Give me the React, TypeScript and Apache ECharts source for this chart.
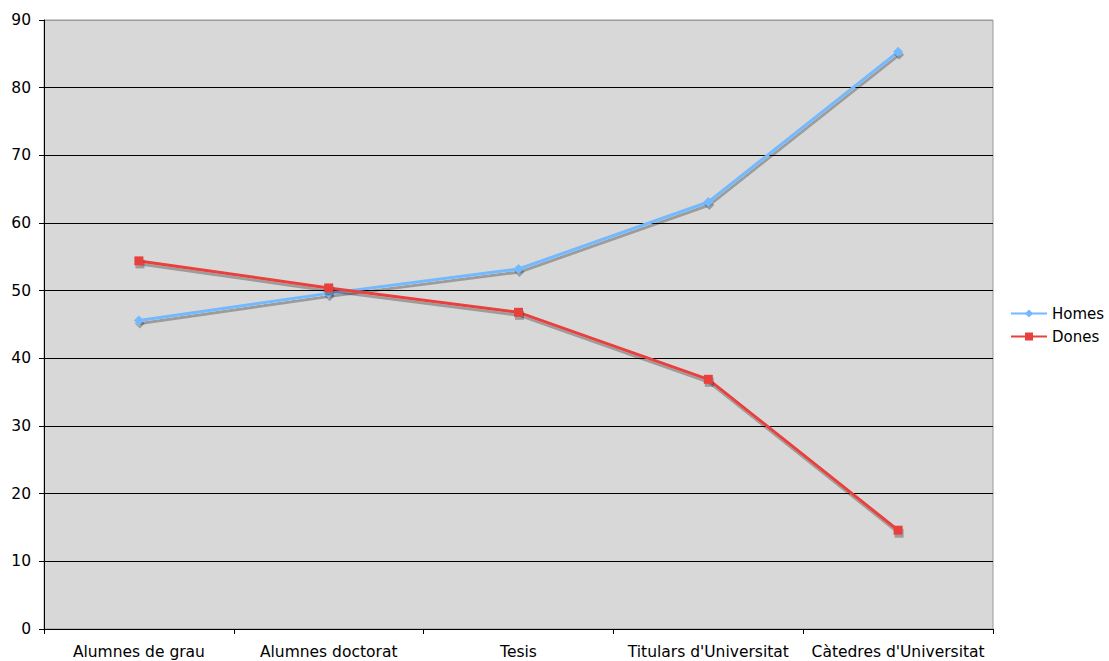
import React, { useEffect, useRef } from "react";
import * as echarts from "echarts";

const categories = ["Alumnes de grau", "Alumnes doctorat", "Tesis", "Titulars d'Universitat", "Càtedres d'Universitat"];
const homes = [45.6, 49.6, 53.2, 63.1, 85.3];
const dones = [54.4, 50.4, 46.8, 36.9, 14.6];
const yTicks = { min: 0, max: 90, interval: 10 };

const FONT = "DejaVu Sans, Verdana, sans-serif";
const FS = 15.5;

export default function App() {
  const ref = useRef<HTMLDivElement>(null);
  useEffect(() => {
    if (!ref.current) return;
    const chart = echarts.init(ref.current, undefined, { renderer: "svg" });
    const shadow = { shadowColor: "rgba(0,0,0,0.28)", shadowBlur: 0, shadowOffsetX: 1, shadowOffsetY: 3 };
    chart.setOption({
      animation: false,
      backgroundColor: "#fff",
      textStyle: { fontFamily: FONT },
      grid: {
        left: 44, top: 20, right: 116, bottom: 32,
        show: true, backgroundColor: "#d8d8d8", borderColor: "#9a9a9a", borderWidth: 1,
      },
      legend: {
        orient: "vertical", left: 1005, top: 301,
        itemWidth: 36, itemHeight: 10, itemGap: 8,
        textStyle: { fontFamily: FONT, fontSize: 15, color: "#000" },
        data: ["Homes", "Dones"],
      },
      xAxis: {
        type: "category", data: categories, boundaryGap: true,
        axisLine: { lineStyle: { color: "#000", width: 1 } },
        axisTick: { show: true, length: 5, lineStyle: { color: "#000" } },
        axisLabel: { fontFamily: FONT, fontSize: FS, color: "#000", margin: 15, interval: 0 },
      },
      yAxis: {
        type: "value", ...yTicks,
        axisLine: { show: true, lineStyle: { color: "#000", width: 1 } },
        axisTick: { show: true, length: 5, lineStyle: { color: "#000" } },
        axisLabel: { fontFamily: FONT, fontSize: FS, color: "#000", margin: 13 },
        splitLine: { show: true, lineStyle: { color: ["#000", "#000", "#000", "#000", "#000", "#000", "#000", "#000", "#000", "#9a9a9a"], width: 1 } },
      },
      series: [
        {
          name: "Homes", type: "line", data: homes, symbol: "diamond", symbolSize: 10,
          color: "#73b9ff",
          lineStyle: { width: 3, color: "#73b9ff", ...shadow },
          itemStyle: { color: "#73b9ff", ...shadow },
        },
        {
          name: "Dones", type: "line", data: dones, symbol: "rect", symbolSize: 9,
          color: "#e8403e",
          lineStyle: { width: 3, color: "#e8403e", ...shadow },
          itemStyle: { color: "#e8403e", ...shadow },
        },
      ],
    });
    return () => chart.dispose();
  }, []);
  return <div ref={ref} style={{ position: "absolute", left: 0, top: 0, width: 1109, height: 661 }} />;
}
